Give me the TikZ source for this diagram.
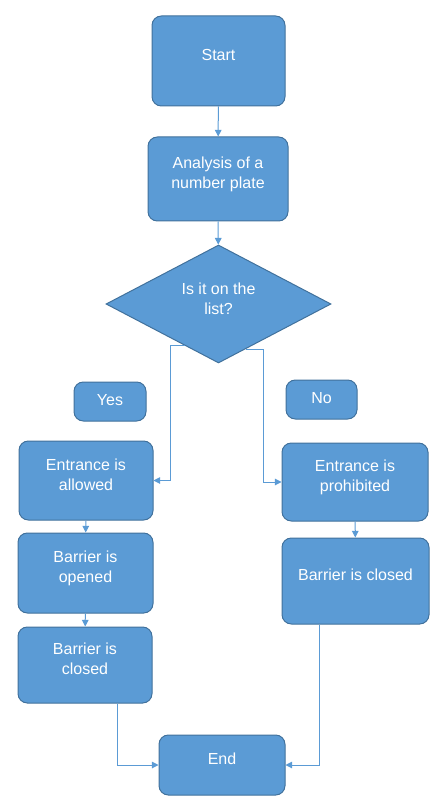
\documentclass[tikz,border=0pt]{standalone}
\usepackage{fontspec}
\setmainfont{Liberation Sans}
\usepackage{tikz}
\usetikzlibrary{arrows.meta,shapes.geometric,calc}
\usepackage{xcolor}
\definecolor{boxfill}{RGB}{91,155,213}
\definecolor{boxline}{RGB}{65,113,156}
\definecolor{linecol}{RGB}{91,155,213}
\tikzset{
  % process box, size given in pixels
  pbox/.style 2 args={rectangle, rounded corners=7pt, draw=boxline, fill=boxfill, line width=0.75pt,
               minimum width=#1*0.75pt, minimum height=#2*0.75pt, inner sep=2pt,
               text=white, font=\fontsize{12}{15}\selectfont, align=center, text depth=9pt},
  % decision diamond
  dbox/.style 2 args={diamond, draw=boxline, fill=boxfill, line width=0.75pt,
               minimum width=#1*0.75pt, minimum height=#2*0.75pt, inner sep=0pt,
               text=white, font=\fontsize{12}{15}\selectfont, align=center, text depth=8pt},
  % flow connector
  conn/.style={-{Triangle[length=5pt,width=5pt]}, draw=linecol, line width=0.75pt},
}
\begin{document}
\begin{tikzpicture}[x=0.75pt,y=-0.75pt]
  \useasboundingbox (0,0) rectangle (443,802);

  % main column
  \node[pbox={133}{90}] (start) at (218.5,61) {Start};
  \node[pbox={140}{84}] (analysis) at (218,179) {Analysis of a\\number plate};
  \node[dbox={225}{118}] (check) at (218.5,304) {Is it on the\\list?};

  % answers
  \node[pbox={72}{39}, text depth=3pt] (yes) at (110,401.5) {Yes};
  \node[pbox={71}{39}, text depth=3pt] (no) at (321.5,399.5) {No};

  % left branch
  \node[pbox={134}{79}] (allowed) at (86,480.5) {Entrance is\\allowed};
  \node[pbox={135}{80}] (opened) at (85.5,573) {Barrier is\\opened};
  \node[pbox={134}{76}] (closedL) at (85,665) {Barrier is\\closed};

  % right branch
  \node[pbox={146}{78}] (prohib) at (355,482) {Entrance is\\prohibited};
  \node[pbox={147}{86}] (closedR) at (355.5,581) {Barrier is closed};

  \node[pbox={126}{60}] (end) at (222,765) {End};

  % forks under the diamond
  \coordinate (yesfork) at ($(check.west)!0.7!(check.south)$);
  \coordinate (nofork) at ($(check.east)!0.76!(check.south)$);
  \coordinate (leftout) at ($(closedL.south)+(32,0)$);
  \coordinate (rightout) at ($(closedR.south)+(-36.5,0)$);

  \draw[conn] (start) -- (analysis);
  \draw[conn] (analysis) -- (check);
  \draw[conn] (yesfork) -- ++(-14,0) |- (allowed.east);
  \draw[conn] (nofork) -- ++(17.5,0) |- (prohib.west);
  \draw[conn] (allowed) -- (opened);
  \draw[conn] (opened) -- (closedL);
  \draw[conn] (prohib) -- (closedR);
  \draw[conn] (leftout) |- (end.west);
  \draw[conn] (rightout) |- (end.east);
\end{tikzpicture}
\end{document}
